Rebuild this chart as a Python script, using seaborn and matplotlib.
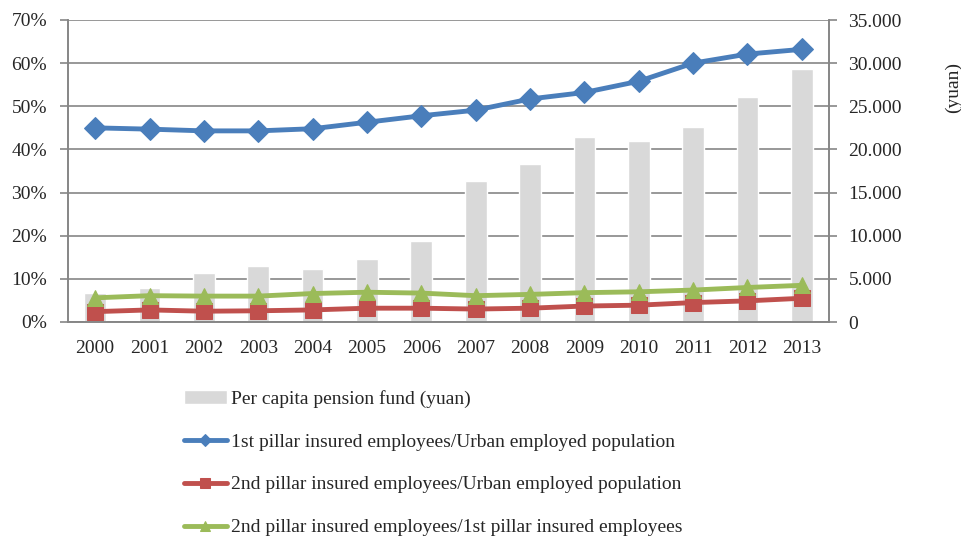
import numpy as np
import pandas as pd
import matplotlib
matplotlib.use("Agg")
import matplotlib.pyplot as plt
from matplotlib.ticker import FuncFormatter, MultipleLocator, FixedLocator
import seaborn as sns

years = [str(y) for y in range(2000, 2014)]
pension_fund = [3400, 3940, 5720, 6530, 6140, 7340, 9430, 16300, 18350, 21440, 20980, 22600, 26080, 29290]
first_urban = [45.0, 44.7, 44.3, 44.3, 44.8, 46.3, 47.8, 49.1, 51.7, 53.2, 55.8, 60.0, 62.1, 63.2]
second_urban = [2.4, 2.8, 2.5, 2.6, 2.8, 3.2, 3.2, 3.0, 3.2, 3.7, 3.9, 4.5, 4.9, 5.5]
second_first = [5.6, 6.1, 6.0, 6.0, 6.6, 6.9, 6.7, 6.1, 6.4, 6.8, 7.0, 7.4, 8.0, 8.5]

labels = ["Per capita pension fund (yuan)",
          "1st pillar insured employees/Urban employed population",
          "2nd pillar insured employees/Urban employed population",
          "2nd pillar insured employees/1st pillar insured employees"]


def main():
    sns.set_style("white")
    plt.rcParams["font.family"] = ["Liberation Serif", "DejaVu Serif"]
    plt.rcParams["font.size"] = 14

    fig = plt.figure(figsize=(9.61, 5.38), dpi=100)
    ax = fig.add_axes([68 / 961, 1 - 322 / 538, (829 - 68) / 961, (322 - 20) / 538])
    ax2 = ax.twinx()

    grey = "#868686"

    # bars on the right axis, drawn first
    bar_df = pd.DataFrame({"year": years, "fund": pension_fund})
    sns.barplot(data=bar_df, x="year", y="fund", ax=ax2, color="#D9D9D9",
                width=0.4, saturation=1, label=labels[0])
    ax2.set_ylim(0, 35000)
    ax2.yaxis.set_major_locator(MultipleLocator(5000))
    ax2.yaxis.set_major_formatter(FuncFormatter(
        lambda v, p: "0" if v == 0 else f"{int(v):,}".replace(",", ".")))
    ax2.set_axisbelow(True)
    ax2.grid(axis="y", color=grey, linewidth=1.2)
    ax2.set_ylabel("(yuan)", rotation=90, fontsize=14)
    ax2.yaxis.set_label_coords(1.152, 0.775)
    ax2.set_xlabel("")

    # lines on the left axis, on top
    ax.set_zorder(ax2.get_zorder() + 1)
    ax.patch.set_visible(False)
    pos = np.arange(len(years))
    series = [(first_urban, "#4A7EBB", "D", 11, labels[1]),
              (second_urban, "#C0504D", "s", 11, labels[2]),
              (second_first, "#9BBB59", "^", 12, labels[3])]
    for vals, col, mk, ms, lab in series:
        sns.lineplot(x=pos, y=vals, ax=ax, color=col, marker=mk, markersize=ms,
                     markeredgecolor=col, linewidth=3.5, label=lab)
    ax.set_ylim(0, 70)
    ax.set_xlim(-0.5, len(years) - 0.5)
    ax.yaxis.set_major_locator(MultipleLocator(10))
    ax.yaxis.set_major_formatter(FuncFormatter(lambda v, p: f"{int(v)}%"))
    ax.set_xticks(pos)
    ax.set_xticklabels(years)
    ax.xaxis.set_minor_locator(FixedLocator(np.arange(-0.5, len(years), 1.0)))
    ax.tick_params(axis="x", which="major", length=0, pad=13)
    ax.tick_params(axis="x", which="minor", length=6, width=1.2, color=grey, direction="out")
    ax.tick_params(axis="y", length=6, width=1.2, color=grey, direction="out", pad=9)
    ax2.tick_params(axis="y", length=6, width=1.2, color=grey, direction="out", pad=8)
    ax2.tick_params(axis="x", length=0)

    for a in (ax, ax2):
        for side in ("left", "right", "bottom"):
            a.spines[side].set_color(grey)
            a.spines[side].set_linewidth(1.2)
        a.spines["top"].set_visible(False)

    h2, l2 = ax2.get_legend_handles_labels()
    h1, l1 = ax.get_legend_handles_labels()
    if ax.get_legend():
        ax.get_legend().remove()
    if ax2.get_legend():
        ax2.get_legend().remove()
    fig.legend(h2 + h1, l2 + l1, loc="upper left", bbox_to_anchor=(176 / 961, 1 - 382 / 538),
               frameon=False, fontsize=14, labelspacing=1.3, handlelength=2.2,
               handletextpad=0.25, markerscale=0.6, borderaxespad=0)

    fig.savefig("out.png", dpi=100)


if __name__ == "__main__":
    main()
